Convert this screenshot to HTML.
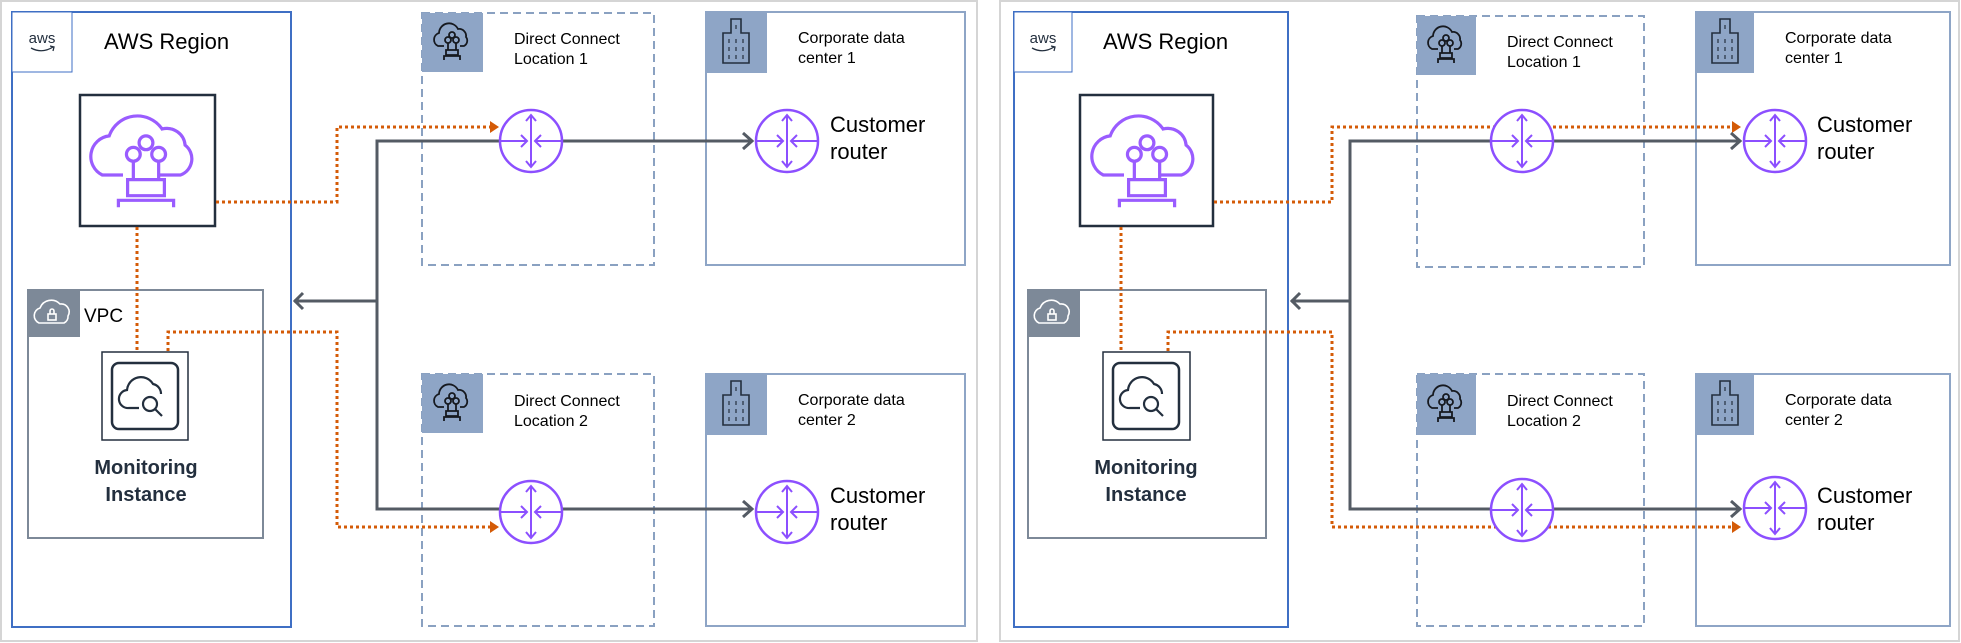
<!DOCTYPE html>
<html><head><meta charset="utf-8"><style>
html,body{margin:0;padding:0;background:#fff;}
svg{display:block;font-family:"Liberation Sans",sans-serif;}
</style></head><body>
<svg width="1961" height="643" viewBox="0 0 1961 643" xmlns="http://www.w3.org/2000/svg">
<defs>
<g id="rt">
<circle r="31" fill="#fff" stroke="#8C4FFF" stroke-width="2.5"/>
<g fill="none" stroke="#8C4FFF" stroke-width="2">
<path d="M0,-26V26M-5,-20L0,-26L5,-20M-5,20L0,26L5,20"/>
<path d="M-30,0H-4M-10,-6L-4,0L-10,6M30,0H4M10,-6L4,0L10,6"/>
</g></g>
<g id="cloudicon0">
<g fill="none" stroke="#9A5CFF" stroke-width="2.8">
<path d="M-20,20 H-38 A18,18 0 0 1 -32,-14 A26,26 0 0 1 14,-20 A16,16 0 0 1 34,-6 A15,15 0 0 1 30,20 H10"/>
<circle cx="0" cy="-8" r="6"/><circle cx="-11" cy="2" r="6"/><circle cx="11" cy="2" r="6"/>
<path d="M-11,8V24M11,8V24M-16,24H16V38H-16ZM-24,48V42H24V48"/>
</g></g>
<g id="cloudicon"><use href="#cloudicon0" transform="scale(1.15)"/></g>
<g id="monicon">
<rect x="-33" y="-33" width="66" height="66" rx="7" fill="none" stroke="#232F3E" stroke-width="2.5"/>
<g fill="none" stroke="#232F3E" stroke-width="2.2">
<path d="M-6,12H-16A9,9 0 0 1 -18,-6A14,14 0 0 1 8,-12A10,10 0 0 1 16,-2"/>
<circle cx="5" cy="8" r="7"/><path d="M10,13L17,20"/>
</g></g>
<g id="dcicon" fill="none" stroke="#16191F" stroke-width="1.8">
<path d="M-8,6H-14A7,7 0 0 1 -13,-7A10,10 0 0 1 6,-11A7,7 0 0 1 14,-3A6,6 0 0 1 12,6H8"/>
<circle cx="0" cy="-5" r="3"/><circle cx="-4" cy="0" r="3"/><circle cx="4" cy="0" r="3"/>
<path d="M-4,3V10M4,3V10M-6,10H6V15H-6ZM-8,20V16H8V20"/>
</g>
<g id="bldicon" fill="none" stroke="#232F3E" stroke-width="1.6">
<path d="M-13,20V-10H-5V-24H5V-10H13V20Z"/>
<path d="M-7,-4V0M0,-4V0M7,-4V0M-7,4V8M0,4V8M7,4V8M-7,12V16M0,12V16M7,12V16M0,-18V-14" stroke-width="1.2"/>
</g>
<g id="awsl">
<text x="0" y="0" font-size="15" fill="#232F3E" text-anchor="middle">aws</text>
<path d="M-11,5Q0,11 11,4M8,3L12,4L11,8" fill="none" stroke="#232F3E" stroke-width="1.3"/>
</g>
<g id="vpcicon" fill="none" stroke="#fff" stroke-width="1.6">
<path d="M-10,10H-13A8,8 0 0 1 -12,-5A12,12 0 0 1 8,-9A8,8 0 0 1 16,3A7,7 0 0 1 12,10Z"/>
<rect x="-4" y="1" width="8" height="6"/><path d="M-2,1V-2A2,2 0 0 1 2,-2V1"/>
</g>
</defs>

<rect x="1" y="1" width="976" height="640" fill="#fff" stroke="#D5D5D5" stroke-width="2"/>
<rect x="1000" y="1" width="959" height="640" fill="#fff" stroke="#D5D5D5" stroke-width="2"/>

<!-- LEFT -->
<rect x="12" y="12" width="279" height="615" fill="none" stroke="#3F6FC4" stroke-width="2"/>
<rect x="12" y="12" width="60" height="60" fill="#fff" stroke="#3F6FC4" stroke-width="1"/>
<use href="#awsl" x="42" y="43"/>
<text x="104" y="49" font-size="22" fill="#000">AWS Region</text>
<rect x="80" y="95" width="135" height="131" fill="#fff" stroke="#232F3E" stroke-width="2.5"/>
<use href="#cloudicon" x="146" y="152"/>
<rect x="28" y="290" width="235" height="248" fill="none" stroke="#7D8998" stroke-width="2"/>
<rect x="28" y="290" width="52" height="47" fill="#7D8998"/>
<use href="#vpcicon" x="52" y="313"/>
<text x="84" y="322" font-size="19" fill="#000">VPC</text>
<rect x="102" y="352" width="86" height="88" fill="#fff" stroke="#232F3E" stroke-width="1.5"/>
<use href="#monicon" x="145" y="396"/>
<text x="146" y="474" font-size="20" font-weight="bold" fill="#232F3E" text-anchor="middle">Monitoring</text>
<text x="146" y="501" font-size="20" font-weight="bold" fill="#232F3E" text-anchor="middle">Instance</text>

<rect x="422" y="13" width="232" height="252" fill="none" stroke="#8AA1C1" stroke-width="2" stroke-dasharray="8,5"/>
<rect x="422" y="13" width="61" height="59" fill="#8EA5C6"/>
<use href="#dcicon" x="452" y="40"/>
<text x="514" y="44" font-size="16" fill="#000">Direct Connect</text>
<text x="514" y="64" font-size="16" fill="#000">Location 1</text>
<rect x="422" y="374" width="232" height="252" fill="none" stroke="#8AA1C1" stroke-width="2" stroke-dasharray="8,5"/>
<rect x="422" y="374" width="61" height="59" fill="#8EA5C6"/>
<use href="#dcicon" x="452" y="401"/>
<text x="514" y="406" font-size="16" fill="#000">Direct Connect</text>
<text x="514" y="426" font-size="16" fill="#000">Location 2</text>

<rect x="706" y="12" width="259" height="253" fill="none" stroke="#8EA5C6" stroke-width="2"/>
<rect x="706" y="12" width="61" height="61" fill="#8EA5C6"/>
<use href="#bldicon" x="736" y="43"/>
<text x="798" y="43" font-size="16" fill="#000">Corporate data</text>
<text x="798" y="63" font-size="16" fill="#000">center 1</text>
<rect x="706" y="374" width="259" height="252" fill="none" stroke="#8EA5C6" stroke-width="2"/>
<rect x="706" y="374" width="61" height="61" fill="#8EA5C6"/>
<use href="#bldicon" x="736" y="405"/>
<text x="798" y="405" font-size="16" fill="#000">Corporate data</text>
<text x="798" y="425" font-size="16" fill="#000">center 2</text>

<g fill="none" stroke="#545B64" stroke-width="3">
<path d="M752,141H377V509H752M377,301H294"/>
<path d="M303,293L295,301L303,309M743,133L752,141L743,149M743,501L752,509L743,517"/>
</g>
<g fill="none" stroke="#D45B07" stroke-width="3" stroke-dasharray="3,3">
<path d="M216,202H337V127H492"/>
<path d="M137,227V351"/>
<path d="M168,351V332H337V527H492"/>
</g>
<path d="M490,121L499,127L490,133Z M490,521L499,527L490,533Z" fill="#D45B07"/>
<use href="#rt" x="531" y="141"/><use href="#rt" x="531" y="512"/>
<use href="#rt" x="787" y="141"/><use href="#rt" x="787" y="512"/>
<text x="830" y="132" font-size="22" fill="#000">Customer</text>
<text x="830" y="159" font-size="22" fill="#000">router</text>
<text x="830" y="503" font-size="22" fill="#000">Customer</text>
<text x="830" y="530" font-size="22" fill="#000">router</text>

<!-- RIGHT -->
<rect x="1014" y="12" width="274" height="615" fill="none" stroke="#3F6FC4" stroke-width="2"/>
<rect x="1014" y="12" width="58" height="60" fill="#fff" stroke="#3F6FC4" stroke-width="1"/>
<use href="#awsl" x="1043" y="43"/>
<text x="1103" y="49" font-size="22" fill="#000">AWS Region</text>
<rect x="1080" y="95" width="133" height="131" fill="#fff" stroke="#232F3E" stroke-width="2.5"/>
<use href="#cloudicon" x="1147" y="152"/>
<rect x="1028" y="290" width="238" height="248" fill="none" stroke="#7D8998" stroke-width="2"/>
<rect x="1028" y="290" width="52" height="47" fill="#7D8998"/>
<use href="#vpcicon" x="1052" y="313"/>
<rect x="1103" y="352" width="87" height="88" fill="#fff" stroke="#232F3E" stroke-width="1.5"/>
<use href="#monicon" x="1146" y="396"/>
<text x="1146" y="474" font-size="20" font-weight="bold" fill="#232F3E" text-anchor="middle">Monitoring</text>
<text x="1146" y="501" font-size="20" font-weight="bold" fill="#232F3E" text-anchor="middle">Instance</text>

<rect x="1417" y="16" width="227" height="251" fill="none" stroke="#8AA1C1" stroke-width="2" stroke-dasharray="8,5"/>
<rect x="1417" y="16" width="59" height="59" fill="#8EA5C6"/>
<use href="#dcicon" x="1446" y="43"/>
<text x="1507" y="47" font-size="16" fill="#000">Direct Connect</text>
<text x="1507" y="67" font-size="16" fill="#000">Location 1</text>
<rect x="1417" y="374" width="227" height="252" fill="none" stroke="#8AA1C1" stroke-width="2" stroke-dasharray="8,5"/>
<rect x="1417" y="374" width="59" height="61" fill="#8EA5C6"/>
<use href="#dcicon" x="1446" y="402"/>
<text x="1507" y="406" font-size="16" fill="#000">Direct Connect</text>
<text x="1507" y="426" font-size="16" fill="#000">Location 2</text>

<rect x="1696" y="12" width="254" height="253" fill="none" stroke="#8EA5C6" stroke-width="2"/>
<rect x="1696" y="12" width="58" height="61" fill="#8EA5C6"/>
<use href="#bldicon" x="1725" y="43"/>
<text x="1785" y="43" font-size="16" fill="#000">Corporate data</text>
<text x="1785" y="63" font-size="16" fill="#000">center 1</text>
<rect x="1696" y="374" width="254" height="252" fill="none" stroke="#8EA5C6" stroke-width="2"/>
<rect x="1696" y="374" width="58" height="61" fill="#8EA5C6"/>
<use href="#bldicon" x="1725" y="405"/>
<text x="1785" y="405" font-size="16" fill="#000">Corporate data</text>
<text x="1785" y="425" font-size="16" fill="#000">center 2</text>

<g fill="none" stroke="#D45B07" stroke-width="3" stroke-dasharray="3,3">
<path d="M1214,202H1332V127H1734"/>
<path d="M1121,227V351"/>
<path d="M1168,351V332H1332V527H1734"/>
</g>
<path d="M1732,121L1741,127L1732,133Z M1732,521L1741,527L1732,533Z" fill="#D45B07"/>
<g fill="none" stroke="#545B64" stroke-width="3">
<path d="M1740,141H1350V509H1740M1350,301H1291"/>
<path d="M1300,293L1292,301L1300,309M1731,133L1740,141L1731,149M1731,501L1740,509L1731,517"/>
</g>
<use href="#rt" x="1522" y="141"/><use href="#rt" x="1522" y="510"/>
<use href="#rt" x="1775" y="141"/><use href="#rt" x="1775" y="508"/>
<text x="1817" y="132" font-size="22" fill="#000">Customer</text>
<text x="1817" y="159" font-size="22" fill="#000">router</text>
<text x="1817" y="503" font-size="22" fill="#000">Customer</text>
<text x="1817" y="530" font-size="22" fill="#000">router</text>
</svg>
</body></html>
